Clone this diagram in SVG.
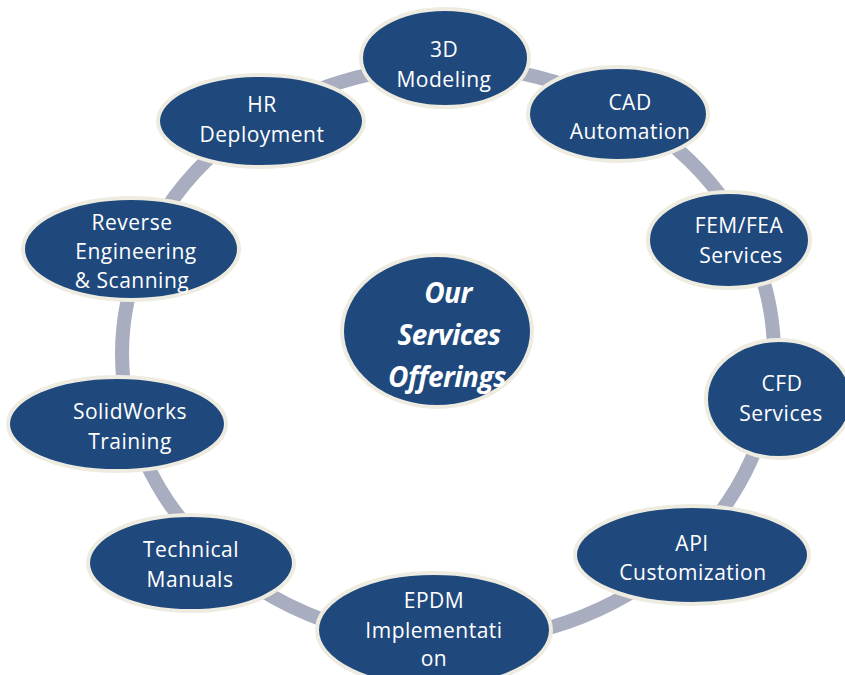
<svg xmlns="http://www.w3.org/2000/svg" width="845" height="675" viewBox="0 0 845 675">
<style>
.node{fill:#1F497D;stroke:#EEECE1;stroke-width:4}
.t{fill:#FFFFFF;font-family:"Open Sans","Noto Sans",sans-serif;font-size:21px;text-anchor:middle;letter-spacing:0.5px}
.c{fill:#FFFFFF;font-family:"Open Sans","Noto Sans",sans-serif;font-size:28px;font-weight:bold;font-style:italic;text-anchor:middle;letter-spacing:-0.5px}
.ring{fill:none;stroke:#A8ADBF;stroke-width:14}
</style>
<rect width="845" height="675" fill="#FFFFFF"/>
<g id="connectors">
<ellipse class="ring" cx="448" cy="354" rx="326" ry="288"/>
</g>
<g id="center">
<ellipse class="node" cx="437" cy="331" rx="95" ry="76"/>
<text class="c" x="448" y="303">Our</text>
<text class="c" x="449" y="345">Services</text>
<text class="c" x="447" y="387">Offerings</text>
</g>
<g id="n-3d">
<ellipse class="node" cx="445" cy="58" rx="84" ry="49"/>
<text class="t" x="444" y="57">3D</text>
<text class="t" x="444" y="87">Modeling</text>
</g>
<g id="n-cad">
<ellipse class="node" cx="618" cy="114" rx="90" ry="47"/>
<text class="t" x="630" y="110">CAD</text>
<text class="t" x="630" y="139">Automation</text>
</g>
<g id="n-fem">
<ellipse class="node" cx="729" cy="240" rx="81" ry="48"/>
<text class="t" x="739" y="233">FEM/FEA</text>
<text class="t" x="741" y="263">Services</text>
</g>
<g id="n-cfd">
<ellipse class="node" cx="779" cy="399" rx="73" ry="59"/>
<text class="t" x="782" y="391">CFD</text>
<text class="t" x="781" y="421">Services</text>
</g>
<g id="n-api">
<ellipse class="node" cx="692" cy="555" rx="117" ry="49"/>
<text class="t" x="692" y="551">API</text>
<text class="t" x="693" y="580">Customization</text>
</g>
<g id="n-epdm">
<ellipse class="node" cx="434" cy="630" rx="117" ry="57"/>
<text class="t" x="434" y="608">EPDM</text>
<text class="t" x="434" y="638">Implementati</text>
<text class="t" x="434" y="666">on</text>
</g>
<g id="n-tech">
<ellipse class="node" cx="191" cy="563" rx="103" ry="48"/>
<text class="t" x="191" y="557">Technical</text>
<text class="t" x="190" y="587">Manuals</text>
</g>
<g id="n-sw">
<ellipse class="node" cx="117" cy="424" rx="109" ry="47"/>
<text class="t" x="130" y="419">SolidWorks</text>
<text class="t" x="130" y="449">Training</text>
</g>
<g id="n-rev">
<ellipse class="node" cx="131" cy="249" rx="108" ry="51"/>
<text class="t" x="132" y="230">Reverse</text>
<text class="t" x="136" y="259">Engineering</text>
<text class="t" x="132" y="288">&amp; Scanning</text>
</g>
<g id="n-hr">
<ellipse class="node" cx="261" cy="121" rx="103" ry="46"/>
<text class="t" x="262" y="112">HR</text>
<text class="t" x="262" y="142">Deployment</text>
</g>
</svg>
